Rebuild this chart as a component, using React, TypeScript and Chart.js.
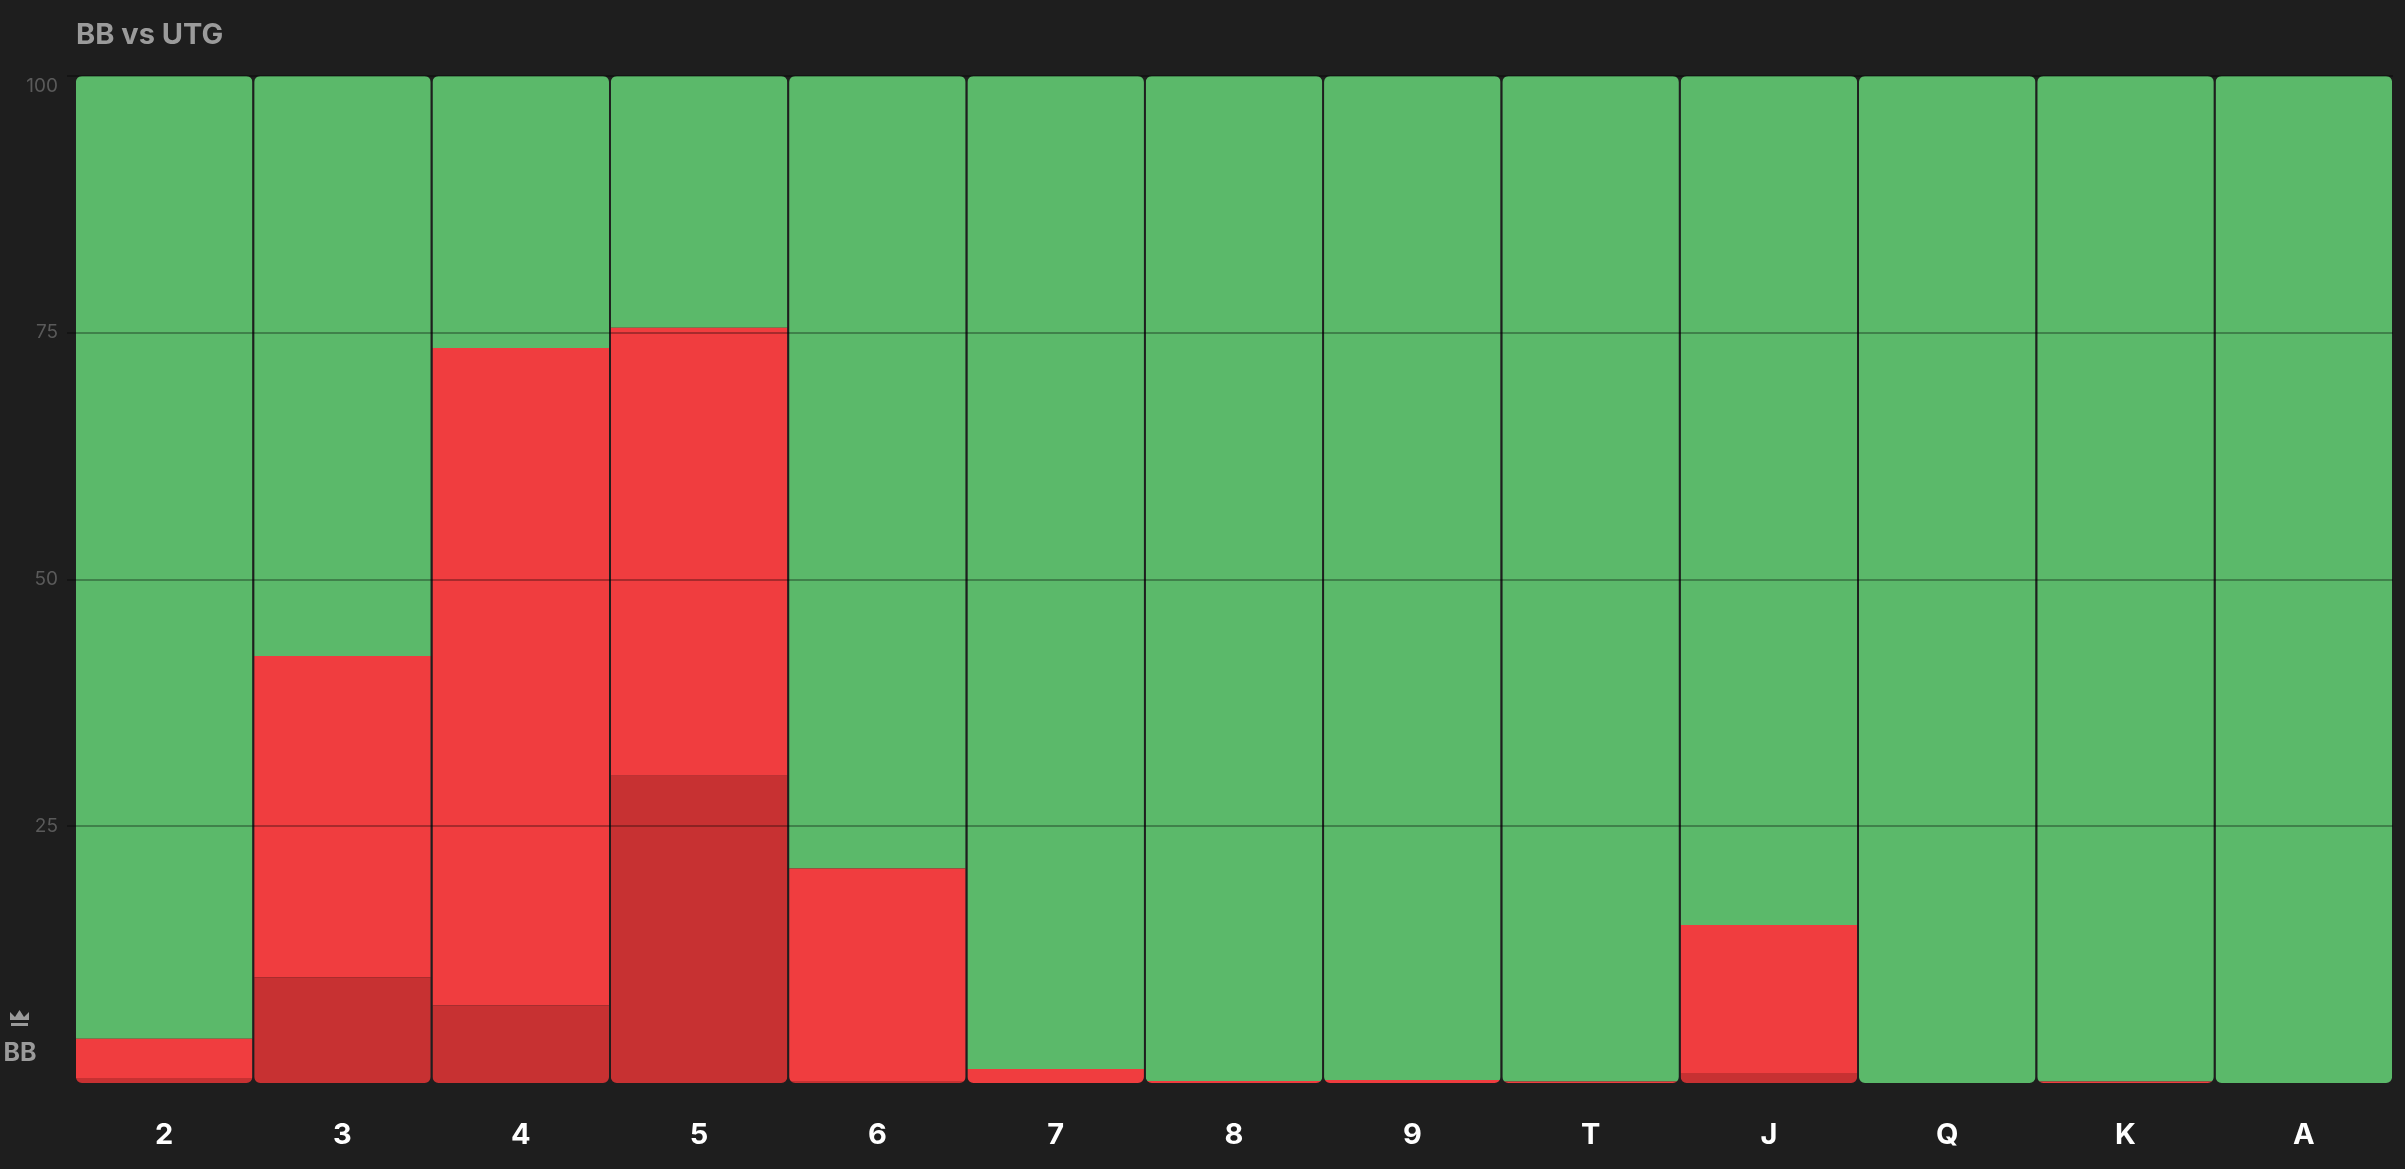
import React, { useEffect, useRef } from 'react'
import { Chart, registerables } from 'chart.js'

Chart.register(...registerables)

// hand ranks on the x axis
const ranks = ['2', '3', '4', '5', '6', '7', '8', '9', 'T', 'J', 'Q', 'K', 'A']

// share of each action per rank, in percent (bottom to top)
const allInPct = [0.5, 10.5, 7.7, 30.5, 0.2, 0, 0, 0, 0, 1.0, 0, 0, 0]
const raisePct = [3.9, 31.9, 65.3, 44.5, 21.1, 1.4, 0.2, 0.3, 0.15, 14.7, 0, 0.15, 0]
const callPct = [95.6, 57.6, 27.0, 25.0, 78.7, 98.6, 99.8, 99.7, 99.85, 84.3, 100, 99.85, 100]

const yTickLabels = [25, 50, 75, 100]

// the plot is padded one unit past 0 and 100, and the columns fill it
const Y_MIN = -1
const Y_MAX = 101

const BG = '#1e1e1e'
const GREEN = '#5bb96a'
const RED = '#f03d3f'
const DARK_RED = '#c73132'
const GRID = 'rgba(0, 0, 0, 0.3)'
const FONT = 'Inter, "Noto Sans", sans-serif'

const toAxis = (v: number) => Y_MIN + (v * (Y_MAX - Y_MIN)) / 100

// turn the stacked percentages into floating [from, to] ranges
const buildRanges = (layers: number[][]) => {
    const out: [number, number][][] = layers.map(() => [])
    ranks.forEach((_, i) => {
        let sum = 0
        layers.forEach((layer, k) => {
            const from = sum
            sum += layer[i]
            out[k].push([toAxis(from), toAxis(sum)])
        })
    })
    return out
}

// clip the columns so every column gets rounded corners as a whole
const roundColumns = {
    id: 'roundColumns',
    beforeDatasetsDraw(chart: any) {
        const meta = chart.getDatasetMeta(0)
        const y = chart.scales.y
        const top = y.getPixelForValue(Y_MAX)
        const bottom = y.getPixelForValue(Y_MIN)
        const ctx = chart.ctx
        ctx.save()
        ctx.beginPath()
        meta.data.forEach((bar: any) => {
            ctx.roundRect(bar.x - bar.width / 2, top, bar.width, bottom - top, 6)
        })
        ctx.clip()
    },
    afterDatasetsDraw(chart: any) {
        chart.ctx.restore()
    }
}

// title at the top and the crown + seat name at the lower left
const labels = {
    id: 'labels',
    afterDraw(chart: any) {
        const { ctx, chartArea } = chart
        ctx.save()
        ctx.fillStyle = '#9b9b9b'
        ctx.textBaseline = 'alphabetic'
        ctx.textAlign = 'left'
        ctx.font = `bold 29px ${FONT}`
        ctx.fillText('BB vs UTG', chartArea.left + 1, 44)

        const b = chartArea.bottom
        ctx.font = `bold 25px ${FONT}`
        ctx.textAlign = 'center'
        ctx.fillText('BB', 20, b - 22)

        // crown
        ctx.beginPath()
        ctx.moveTo(10, b - 63)
        ctx.lineTo(10, b - 71)
        ctx.lineTo(15, b - 66)
        ctx.lineTo(19.5, b - 73)
        ctx.lineTo(24, b - 66)
        ctx.lineTo(29, b - 71)
        ctx.lineTo(29, b - 63)
        ctx.closePath()
        ctx.fill()
        ctx.fillRect(11, b - 60, 17, 3)
        ctx.restore()
    }
}

const App: React.FC = () => {
    const chartRef = useRef<HTMLCanvasElement>(null)
    const chartInstance = useRef<Chart | null>(null)

    useEffect(() => {
        document.body.style.margin = '0'
        document.body.style.background = BG
        if (!chartRef.current) return
        if (chartInstance.current) {
            chartInstance.current.destroy()
        }

        const [allIn, raise, call] = buildRanges([allInPct, raisePct, callPct])
        const common = {
            barPercentage: 0.99,
            categoryPercentage: 1,
            borderWidth: 0,
            borderRadius: 0
        }
        const showLine = (c: any) =>
            c.tick && [25, 50, 75, Y_MAX].includes(c.tick.value) ? GRID : 'transparent'

        chartInstance.current = new Chart(chartRef.current, {
            type: 'bar',
            data: {
                labels: ranks,
                datasets: [
                    { label: 'All-in', data: allIn as any, backgroundColor: DARK_RED, ...common },
                    { label: 'Raise', data: raise as any, backgroundColor: RED, ...common },
                    { label: 'Call', data: call as any, backgroundColor: GREEN, ...common }
                ]
            },
            options: {
                animation: false,
                responsive: true,
                maintainAspectRatio: false,
                layout: {
                    padding: { top: 76, right: 12, left: 0, bottom: 0 }
                },
                plugins: {
                    legend: { display: false },
                    tooltip: { enabled: false },
                    title: { display: false }
                },
                scales: {
                    x: {
                        stacked: true,
                        grid: { display: false, drawTicks: false },
                        border: { display: false },
                        ticks: {
                            color: '#ffffff',
                            padding: 35,
                            font: { family: FONT, size: 29, weight: 'bold' }
                        },
                        afterFit: (scale: any) => {
                            scale.height = 86
                        }
                    },
                    y: {
                        stacked: false,
                        min: Y_MIN,
                        max: Y_MAX,
                        border: { display: false },
                        afterBuildTicks: (scale: any) => {
                            scale.ticks = [0, ...yTickLabels, Y_MAX].map((v) => ({ value: v }))
                        },
                        grid: {
                            z: 1,
                            lineWidth: 2,
                            tickLength: 8,
                            color: showLine,
                            tickColor: showLine
                        },
                        ticks: {
                            color: '#5a5a5a',
                            padding: 9,
                            font: { family: FONT, size: 19 },
                            callback: (value: any) => (yTickLabels.includes(value) ? String(value) : '')
                        },
                        afterFit: (scale: any) => {
                            scale.width = 75
                        }
                    }
                }
            },
            plugins: [roundColumns, labels]
        })

        return () => {
            if (chartInstance.current) {
                chartInstance.current.destroy()
                chartInstance.current = null
            }
        }
    }, [])

    return (
        <div style={{ width: '2405px', height: '1169px', position: 'relative', background: BG }}>
            <canvas ref={chartRef}></canvas>
        </div>
    )
}

export default App
